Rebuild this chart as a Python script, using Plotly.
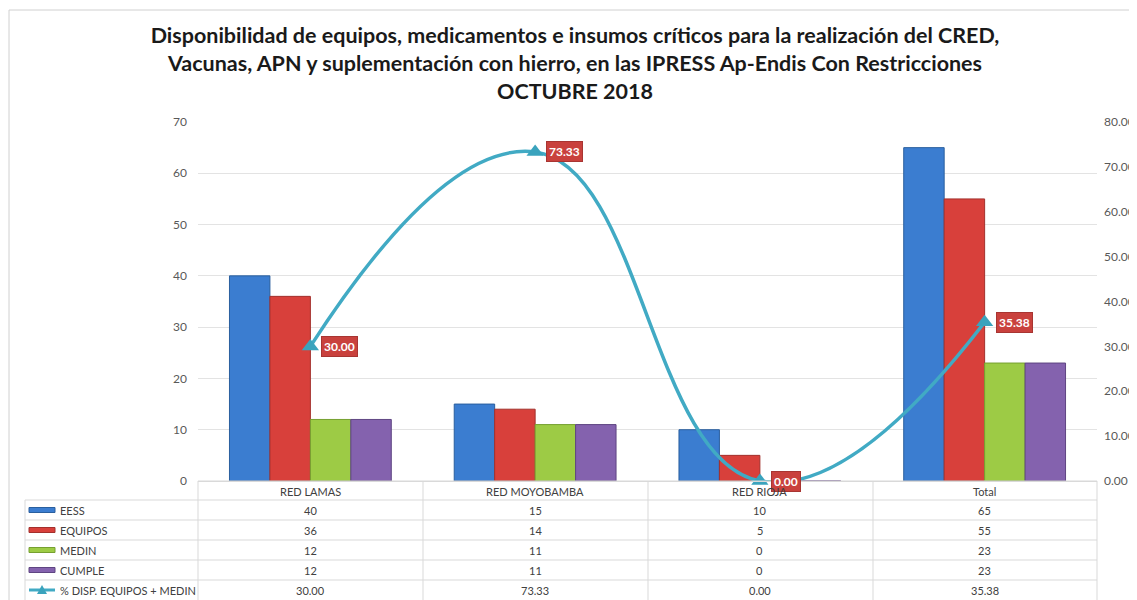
import plotly.graph_objects as go

# data
categorias = ["RED LAMAS", "RED MOYOBAMBA", "RED RIOJA", "Total"]
eess = [40, 15, 10, 65]
equipos = [36, 14, 5, 55]
medin = [12, 11, 0, 23]
cumple = [12, 11, 0, 23]
pct_disp = [30.00, 73.33, 0.00, 35.38]

series = ["EESS", "EQUIPOS", "MEDIN", "CUMPLE"]
serie_vals = [eess, equipos, medin, cumple]
colores = ["#3b7dd0", "#d8403b", "#9dcb45", "#8462ae"]
bordes = ["#2a5f9e", "#a3302c", "#76a030", "#5f4582"]
linea_nombre = "% DISP. EQUIPOS + MEDIN"
linea_color = "#41aac4"

# the page body has an 8px margin, so the figure is drawn 8px smaller
OFF = 8
W, H = 1137 - OFF, 600 - OFF
L, R, T, B = 198, 1097, 122, 481   # plot area, in window pixels
PH = B - T
PW = R - L

def py(p):
    return (B - p) / PH

def px(p):
    return (p - L) / PW

x_idx = list(range(len(categorias)))
font_fam = "Lato"
txt_c = "#404040"
tbl_size = 11

fig = go.Figure()
for name, vals, c, bc in zip(series, serie_vals, colores, bordes):
    fig.add_trace(go.Bar(x=x_idx, y=vals, name=name, marker=dict(color=c, line=dict(color=bc, width=1))))

fig.add_trace(go.Scatter(
    x=x_idx, y=pct_disp, name=linea_nombre, yaxis="y2",
    mode="lines+markers",
    line=dict(color=linea_color, width=3.5, shape="spline", smoothing=1.3),
    marker=dict(symbol="triangle-up", size=15, color="#3aa3bd"),
    cliponaxis=False,
))

annotations = []
# red data labels
for i, v in enumerate(pct_disp):
    annotations.append(dict(
        x=i, y=v, xref="x", yref="y2", text="<b>%.2f</b>" % v, showarrow=False,
        xanchor="left", yanchor="middle", xshift=11,
        bgcolor="#c9413d", bordercolor="#a83532", borderwidth=1, borderpad=2,
        font=dict(color="white", size=12, family=font_fam),
    ))

# table: header row (category names)
for i, c in enumerate(categorias):
    annotations.append(dict(x=i, y=py(491), xref="x", yref="paper", text=c, showarrow=False,
                            font=dict(size=tbl_size, color=txt_c, family=font_fam), yanchor="middle"))

row_centers = [510, 530, 550, 570, 590]
rows = serie_vals + [pct_disp]
labels = series + [linea_nombre]
for r, (lab, vals, yc) in enumerate(zip(labels, rows, row_centers)):
    annotations.append(dict(x=px(58), y=py(yc), xref="paper", yref="paper", text=lab, showarrow=False,
                            xanchor="left", yanchor="middle",
                            font=dict(size=tbl_size, color=txt_c, family=font_fam)))
    for i, v in enumerate(vals):
        txt = "%.2f" % v if r == 4 else str(v)
        annotations.append(dict(x=i, y=py(yc), xref="x", yref="paper", text=txt, showarrow=False,
                                yanchor="middle", font=dict(size=tbl_size, color=txt_c, family=font_fam)))

shapes = []
grid_c = "#d9d9d9"
# horizontal table lines
for yy in [500, 520, 540, 560, 580]:
    shapes.append(dict(type="line", xref="paper", yref="paper", x0=px(25), x1=1, y0=py(yy), y1=py(yy),
                       line=dict(color=grid_c, width=1)))
shapes.append(dict(type="line", xref="paper", yref="paper", x0=0, x1=1, y0=0, y1=0,
                   line=dict(color=grid_c, width=1)))
# vertical table lines
shapes.append(dict(type="line", xref="paper", yref="paper", x0=px(25), x1=px(25), y0=py(500), y1=py(600),
                   line=dict(color=grid_c, width=1)))
for xx in [198, 423, 648, 873, 1097]:
    shapes.append(dict(type="line", xref="paper", yref="paper", x0=px(xx), x1=px(xx), y0=py(481), y1=py(600),
                       line=dict(color=grid_c, width=1)))
# legend keys inside table
for yc, c, bc in zip(row_centers[:4], colores, bordes):
    shapes.append(dict(type="rect", xref="paper", yref="paper", x0=px(29), x1=px(55),
                       y0=py(yc + 2.5), y1=py(yc - 2.5), fillcolor=c, line=dict(color=bc, width=1)))
shapes.append(dict(type="line", xref="paper", yref="paper", x0=px(29), x1=px(55),
                   y0=py(590), y1=py(590), line=dict(color=linea_color, width=3)))
shapes.append(dict(type="path", xref="paper", yref="paper",
                   path="M %f %f L %f %f L %f %f Z" % (px(37), py(594), px(47), py(594), px(42), py(585)),
                   fillcolor="#3aa3bd", line=dict(width=0)))
# outer border of the chart
shapes.append(dict(type="rect", xref="paper", yref="paper", x0=px(9), x1=px(1160), y0=py(640), y1=py(10),
                   line=dict(color="#d0d0d0", width=1)))

fig.update_layout(
    width=W, height=H,
    margin=dict(l=L - OFF, r=W + OFF - R, t=T - OFF, b=H + OFF - B, autoexpand=False),
    paper_bgcolor="white", plot_bgcolor="white",
    barmode="group", bargap=0.28, bargroupgap=0,
    showlegend=False,
    title=dict(
        text="<b>Disponibilidad de equipos, medicamentos e insumos críticos para la realización del CRED,<br>"
             "Vacunas, APN y suplementación con hierro, en las IPRESS Ap-Endis Con Restricciones<br>"
             "OCTUBRE 2018</b>",
        x=(575 - OFF) / W, xanchor="center", y=1 - (43 - OFF) / H, yanchor="top",
        font=dict(family=font_fam, size=21.5, color="#1a1a1a"),
    ),
    xaxis=dict(range=[-0.5, 3.5], showticklabels=False, showgrid=False, zeroline=False,
               showline=True, linecolor=grid_c, ticks="", automargin=False),
    yaxis=dict(range=[0, 70], dtick=10, showgrid=True, gridcolor="#e3e3e3", zeroline=False,
               tickfont=dict(size=12, color="#595959", family=font_fam), ticks="", ticklabelstandoff=10,
               automargin=False),
    yaxis2=dict(range=[0, 80], dtick=10, overlaying="y", side="right", showgrid=False, zeroline=False,
                tickformat=".2f", tickfont=dict(size=12, color="#595959", family=font_fam), ticks="",
                ticklabelstandoff=6, automargin=False),
    annotations=annotations,
    shapes=shapes,
)

fig.write_html("out.html")
